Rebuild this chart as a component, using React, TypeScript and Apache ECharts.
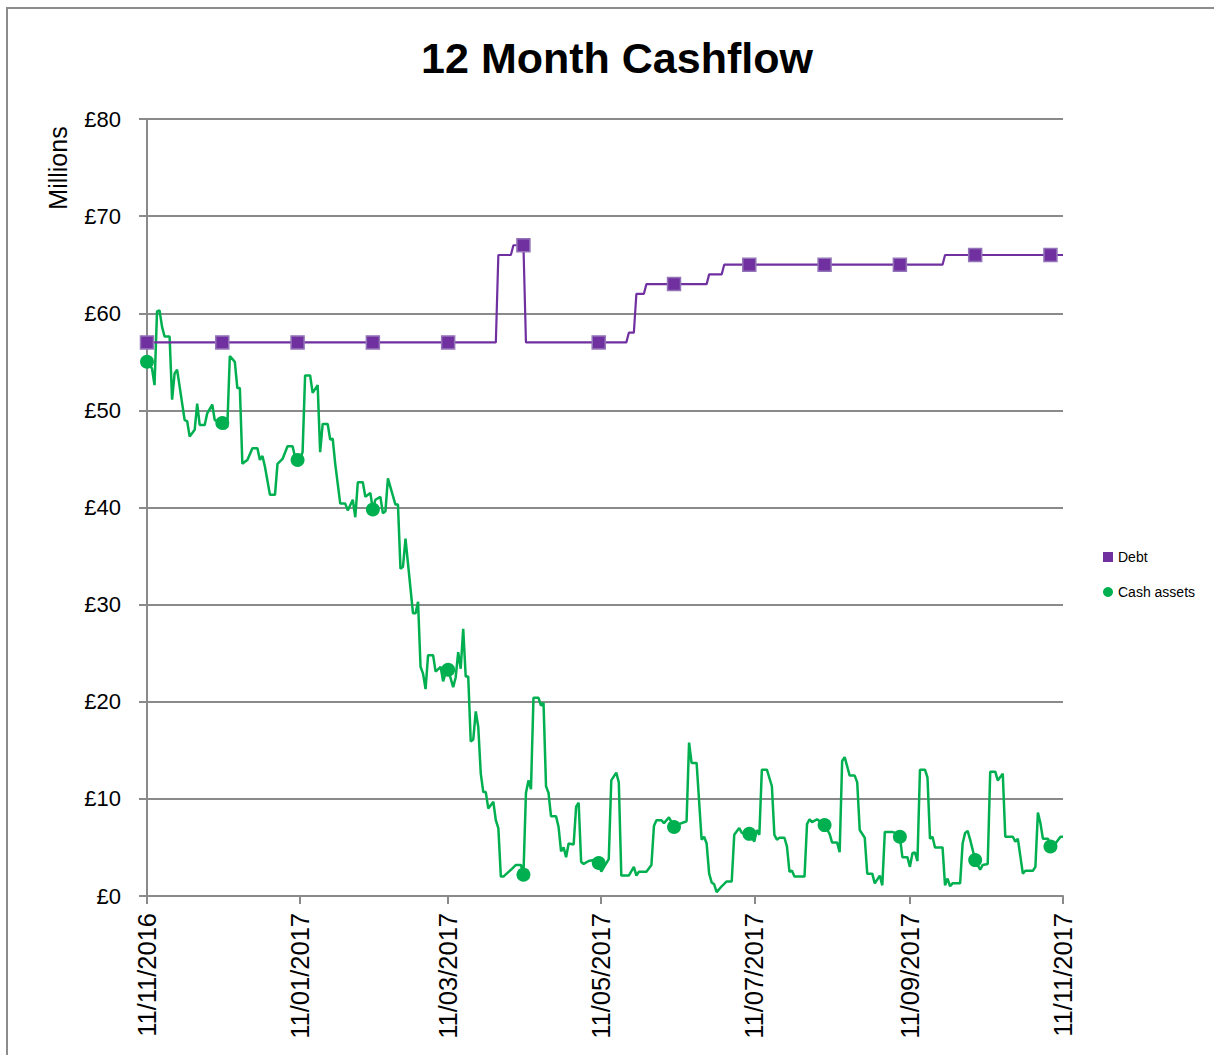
import React, { useEffect, useRef } from "react";
import * as echarts from "echarts";

// Days since 11/11/2016
const tickDays = [0, 61, 120, 181, 242, 304, 365];
const tickLabels = ["11/11/2016", "11/01/2017", "11/03/2017", "11/05/2017", "11/07/2017", "11/09/2017", "11/11/2017"];
const yTicks = [0, 10, 20, 30, 40, 50, 60, 70, 80];

const markerDays = [0, 30, 60, 90, 120, 150, 180, 210, 240, 270, 300, 330, 360];

const debtDays = [0, 30, 60, 90, 120, 139, 140, 145, 146, 150, 151, 180, 191, 192, 194, 195, 198, 199, 210, 223, 224, 229, 230, 240, 270, 300, 317, 318, 330, 360, 365];
const debtValues = [57, 57, 57, 57, 57, 57, 66, 66, 67, 67, 57, 57, 57, 58, 58, 62, 62, 63, 63, 63, 64, 64, 65, 65, 65, 65, 65, 66, 66, 66, 66];

const cashDays = [
  0, 2, 3, 4, 5, 6, 7, 9, 10, 11, 12, 15, 16, 17, 19, 20, 21, 23, 24, 26, 27, 28, 30, 31, 32, 33, 35, 36, 37, 38, 39, 40,
  42, 44, 45, 46, 47, 49, 51, 52, 54, 56, 58, 59, 60, 61, 62, 63, 65, 66, 68, 69, 70, 72, 73, 74, 75, 77, 79, 80, 82, 83,
  84, 86, 87, 89, 90, 91, 93, 94, 95, 96, 99, 100, 101, 102, 103, 106, 107, 108, 109, 110, 111, 112, 114, 115, 117, 118,
  119, 120, 122, 123, 124, 125, 126, 127, 128, 129, 130, 131, 132, 133, 134, 135, 136, 138, 139, 140, 141, 142, 145, 147,
  149, 150, 151, 152, 153, 154, 156, 157, 158, 159, 160, 161, 163, 164, 165, 166, 167, 168, 170, 171, 172, 173, 174, 176,
  178, 180, 181, 184, 185, 187, 188, 189, 192, 194, 195, 196, 199, 201, 202, 203, 205, 206, 208, 210, 212, 215, 216, 217,
  219, 221, 222, 223, 224, 225, 226, 227, 229, 231, 233, 234, 236, 237, 240, 242, 243, 244, 245, 247, 249, 250, 251, 252,
  254, 255, 256, 257, 258, 262, 263, 264, 265, 267, 270, 272, 273, 275, 276, 277, 278, 280, 282, 283, 284, 286, 287, 289,
  290, 292, 293, 294, 297, 299, 300, 301, 303, 304, 305, 306, 307, 308, 310, 311, 312, 313, 314, 317, 318, 319, 320, 321,
  324, 325, 326, 327, 328, 330, 332, 333, 335, 336, 338, 339, 341, 342, 345, 346, 347, 349, 350, 353, 354, 355, 356, 357,
  359, 360, 362, 364, 365,
];
const cashValues = [
  55.0, 54.3, 52.6, 60.2, 60.3, 58.6, 57.6, 57.6, 51.1, 53.8, 54.2, 49.0, 48.9, 47.3, 48.0, 50.7, 48.5, 48.5, 49.7, 50.6, 49.0, 48.9, 48.7, 48.1, 48.3, 55.6, 55.0, 52.3, 52.3, 44.5, 44.7, 44.9,
  46.1, 46.1, 44.9, 45.3, 44.2, 41.3, 41.3, 44.5, 45.0, 46.3, 46.3, 45.2, 44.9, 45.0, 45.7, 53.6, 53.6, 51.8, 52.6, 45.7, 48.6, 48.6, 47.0, 47.1, 44.5, 40.4, 40.4, 39.7, 40.8, 39.0,
  42.6, 42.6, 41.1, 41.5, 39.8, 40.8, 41.1, 39.4, 39.6, 43.0, 40.3, 40.3, 33.7, 33.9, 36.8, 29.1, 29.1, 30.3, 23.6, 22.9, 21.3, 24.8, 24.8, 23.1, 23.6, 22.1,
  23.0, 23.3, 21.5, 22.5, 25.1, 23.4, 27.5, 22.6, 22.6, 15.9, 16.1, 19.0, 17.4, 12.6, 10.7, 10.7, 9.0, 9.7, 7.8, 7.0, 2.0, 2.0, 2.7, 3.2,
  3.2, 2.2, 10.6, 11.9, 11.0, 20.4, 20.4, 19.6, 19.9, 11.3, 10.6, 8.2, 8.2, 7.1, 4.6, 5.0, 4.0, 5.4, 5.3, 9.2, 9.6, 3.5, 3.3, 3.6,
  3.7, 3.4, 2.5, 3.8, 11.9, 12.7, 11.7, 2.1, 2.1, 3.0, 2.1, 2.5, 2.5, 3.2, 7.2, 7.8, 7.8, 7.5, 8.1, 7.1, 7.4, 7.7, 15.8, 13.7,
  13.7, 5.8, 6.1, 5.4, 2.3, 1.4, 1.2, 0.4, 1.0, 1.5, 1.5, 6.3, 7.0, 6.5, 6.4, 5.6, 6.8, 6.3, 13.0, 13.0, 11.3, 6.3, 5.8, 6.0,
  6.0, 5.1, 2.5, 2.6, 2.0, 2.0, 7.4, 7.9, 7.6, 7.9, 7.3, 6.4, 5.5, 5.5, 4.5, 13.9, 14.3, 12.4, 12.4, 11.7, 6.8, 6.0, 2.3, 2.3,
  1.3, 2.1, 1.1, 6.6, 6.6, 6.4, 6.1, 4.0, 4.0, 3.0, 4.4, 4.5, 3.6, 13.0, 13.0, 12.2, 5.9, 6.1, 5.0, 5.0, 1.1, 1.8, 1.0, 1.3,
  1.3, 5.4, 6.5, 6.7, 5.8, 3.7, 2.7, 3.2, 3.3, 12.8, 12.8, 11.9, 12.6, 6.1, 6.1, 5.6, 5.9, 2.3, 2.6, 2.6, 3.0, 8.6, 7.5, 5.9,
  5.9, 5.1, 5.4, 6.1, 6.1,
];

const DEBT = "#7030A0";
const CASH = "#00B050";
const GRIDC = "#8a8a8a";
const FONT = "'Liberation Sans', Arial, sans-serif";

function buildData(days: number[], values: number[], symbol: string, size: number, itemStyle: any) {
  return days.map((d, i) =>
    markerDays.indexOf(d) >= 0
      ? { value: [d, values[i]], symbol, symbolSize: size, itemStyle }
      : { value: [d, values[i]] }
  );
}

function dayLabel(v: number) {
  const i = tickDays.indexOf(Math.round(v));
  return i >= 0 ? tickLabels[i] : "";
}

export default function App() {
  const ref = useRef<HTMLDivElement>(null);
  useEffect(() => {
    if (!ref.current) return;
    const chart = echarts.init(ref.current, undefined, { renderer: "svg" });
    chart.setOption({
      animation: false,
      backgroundColor: "#ffffff",
      textStyle: { fontFamily: FONT },
      title: {
        text: "12 Month Cashflow",
        left: 604,
        top: 22,
        textAlign: "center",
        textStyle: { fontFamily: FONT, fontSize: 43, fontWeight: "bold", color: "#000" },
      },
      graphic: [
        {
          type: "text",
          x: 50,
          y: 159,
          rotation: Math.PI / 2,
          style: {
            text: "Millions",
            fontFamily: FONT,
            fontSize: 25,
            fill: "#000",
            textAlign: "center",
            textVerticalAlign: "middle",
          },
        },
      ],
      legend: {
        orient: "vertical",
        left: 1090,
        top: 536,
        itemWidth: 10,
        itemHeight: 10,
        itemGap: 21,
        textStyle: { fontFamily: FONT, fontSize: 14, color: "#000" },
        data: [
          { name: "Debt", icon: "rect" },
          { name: "Cash assets", icon: "circle" },
        ],
      },
      grid: { left: 139, top: 110, width: 916, height: 777, containLabel: false },
      xAxis: {
        type: "value",
        min: 0,
        max: 365,
        axisLine: { show: true, lineStyle: { color: GRIDC, width: 2 } },
        axisTick: { show: true, length: 8, lineStyle: { color: GRIDC, width: 2 }, customValues: tickDays },
        axisLabel: {
          rotate: 90,
          margin: 17,
          fontSize: 25.5,
          fontFamily: FONT,
          color: "#000",
          customValues: tickDays,
          formatter: (v: number) => dayLabel(v),
        },
        splitLine: { show: false },
      },
      yAxis: {
        type: "value",
        min: 0,
        max: 80,
        interval: 10,
        axisLine: { show: true, lineStyle: { color: GRIDC, width: 2 } },
        axisTick: { show: true, length: 8, lineStyle: { color: GRIDC, width: 2 } },
        axisLabel: {
          margin: 26,
          fontSize: 22,
          fontFamily: FONT,
          color: "#000",
          formatter: (v: number) => (yTicks.indexOf(v) >= 0 ? "£" + v : ""),
        },
        splitLine: { show: true, lineStyle: { color: GRIDC, width: 2 } },
      },
      series: [
        {
          name: "Debt",
          type: "line",
          symbol: "none",
          color: DEBT,
          lineStyle: { color: DEBT, width: 2.2 },
          itemStyle: { color: DEBT },
          data: buildData(debtDays, debtValues, "rect", 13, { color: DEBT, borderColor: "#9474b8", borderWidth: 1.5 }),
          z: 3,
        },
        {
          name: "Cash assets",
          type: "line",
          symbol: "none",
          color: CASH,
          lineStyle: { color: CASH, width: 2.5 },
          itemStyle: { color: CASH },
          data: buildData(cashDays, cashValues, "circle", 14, { color: CASH }),
          z: 2,
        },
      ],
    });
    return () => chart.dispose();
  }, []);
  return (
    <div
      style={{
        position: "absolute",
        left: 6,
        top: 7,
        width: 1206,
        height: 1046,
        borderTop: "2px solid #8c8c8c",
        borderLeft: "2px solid #8c8c8c",
        overflow: "hidden",
      }}
    >
      <div ref={ref} style={{ width: 1206, height: 1046 }} />
    </div>
  );
}
